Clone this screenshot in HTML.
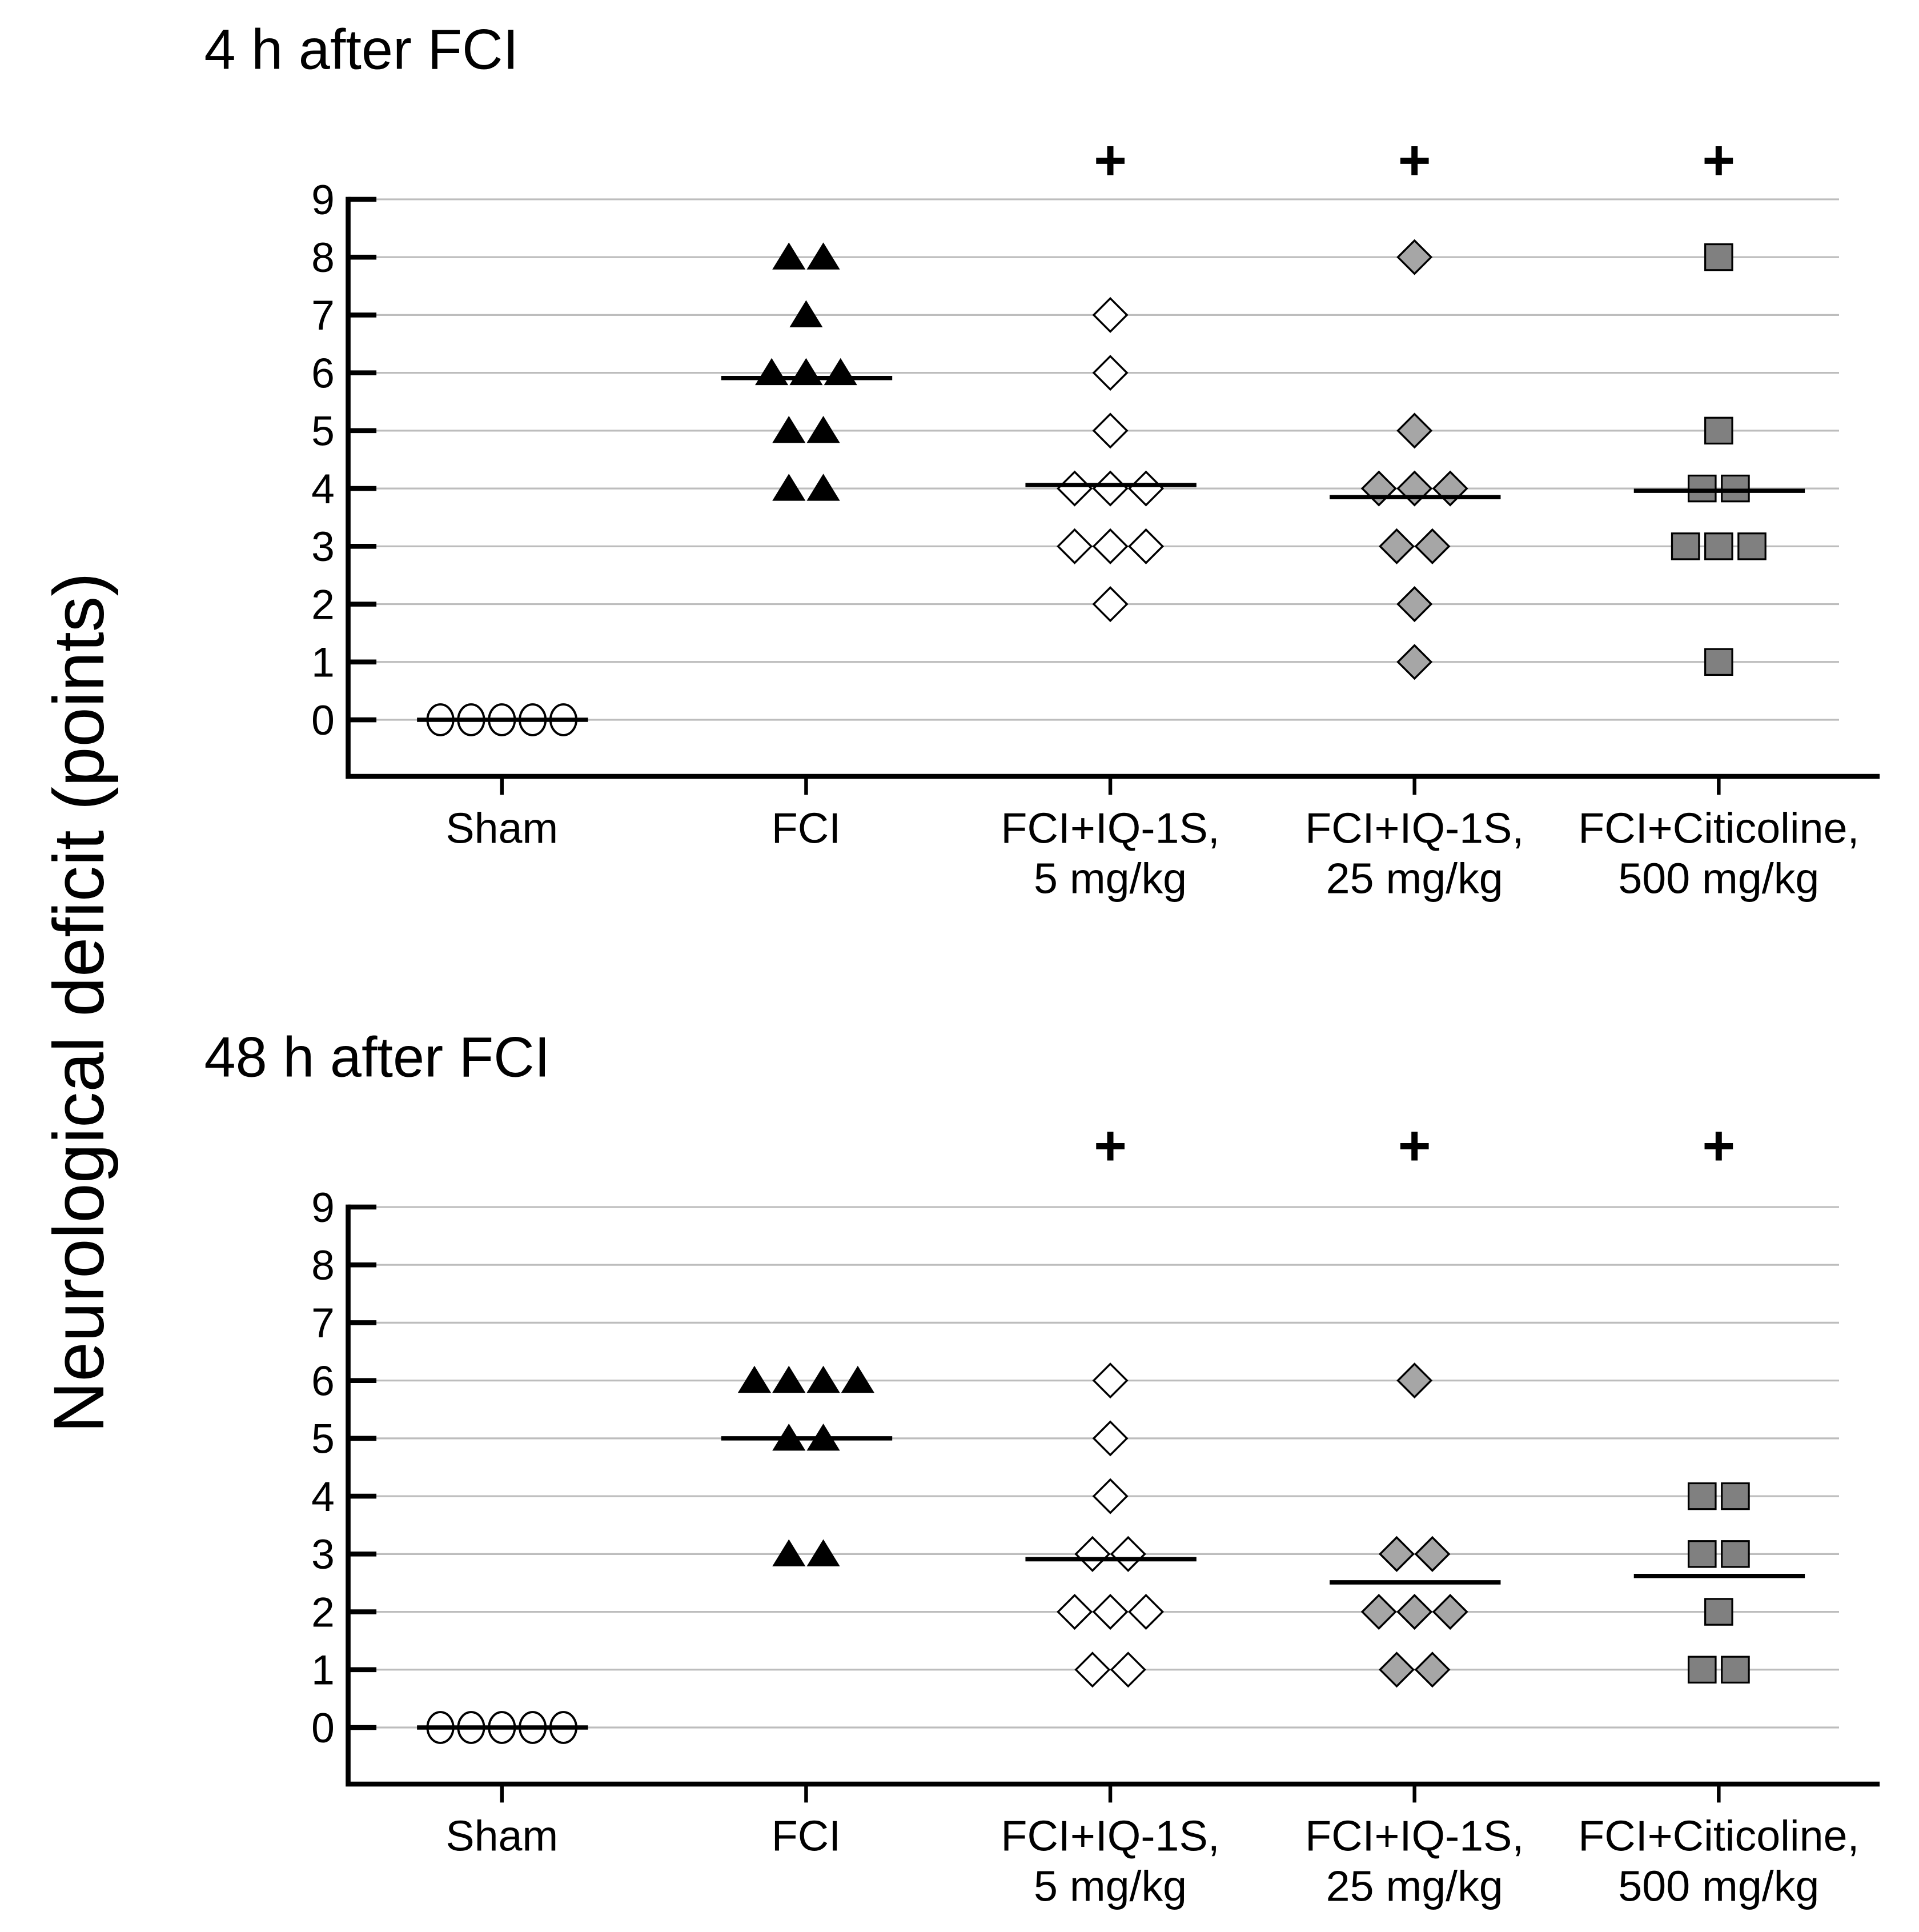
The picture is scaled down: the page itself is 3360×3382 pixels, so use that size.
<!DOCTYPE html>
<html><head><meta charset="utf-8"><style>
html,body{margin:0;padding:0;background:#fff}
svg{display:block}
text{font-family:"Liberation Sans",Arial,sans-serif;fill:#000}
</style></head><body>
<svg id="chart" width="3360" height="3382" viewBox="0 0 1560 1570.2" xmlns="http://www.w3.org/2000/svg">
<text transform="translate(84,815) rotate(-90)" text-anchor="middle" font-size="58">Neurological deficit (points)</text>
<g id="panels"></g>
</svg>
<script>
const categories = ["Sham","FCI","FCI+IQ-1S,|5 mg/kg","FCI+IQ-1S,|25 mg/kg","FCI+Citicoline,|500 mg/kg"];
const yTicks = [0,1,2,3,4,5,6,7,8,9];
const panelTitles = ["4 h after FCI","48 h after FCI"];
// values per group (top panel: 4 h)
const top_sham = [0,0,0,0,0];
const top_fci = [8,8,7,6,6,6,5,5,4,4];
const top_iq5 = [7,6,5,4,4,4,3,3,3,2];
const top_iq25 = [8,5,4,4,4,3,3,2,1];
const top_citi = [8,5,4,4,3,3,3,1];
const top_medians = [0,5.91,4.06,3.85,3.96];
// bottom panel: 48 h
const bot_sham = [0,0,0,0,0];
const bot_fci = [6,6,6,6,5,5,3,3];
const bot_iq5 = [6,5,4,3,3,2,2,2,1,1];
const bot_iq25 = [6,3,3,2,2,2,1,1];
const bot_citi = [4,4,3,3,2,1,1];
const bot_medians = [0,5.0,2.91,2.51,2.62];
const significant = [false,false,true,true,true];

const NS="http://www.w3.org/2000/svg";
const root=document.getElementById('panels');
function mk(tag,attrs,parent){const e=document.createElementNS(NS,tag);for(const k in attrs)e.setAttribute(k,attrs[k]);(parent||root).appendChild(e);return e;}
const xPos=i=>408+i*247.3;
const styles=[
 {shape:'circle',fill:'#fff',dx:25},
 {shape:'tri',fill:'#000',dx:28},
 {shape:'diamond',fill:'#fff',dx:29},
 {shape:'diamond',fill:'#a6a6a6',dx:29},
 {shape:'square',fill:'#808080',dx:27}];

function drawPanel(p, off, plusY, groups, medians){
  const y=v=>585+off-v*47;
  const g=mk('g',{});
  
  
  const t=mk('text',{x:166,y:56+off,'font-size':46},g);t.textContent=panelTitles[p];
  
  yTicks.forEach(v=>{
    const gl=mk('line',{x1:283,x2:1495,y1:y(v),y2:y(v),stroke:'#bdbdbd','stroke-width':1.5},g);
    
    const tk=mk('line',{x1:283,x2:306,y1:y(v),y2:y(v),stroke:'#000','stroke-width':4},g);
    
    const tl=mk('text',{x:272,y:y(v)+12,'font-size':34,'text-anchor':'end'},g);tl.textContent=v;
    
  });
  const ax=mk('path',{d:`M283,${160+off} V${631+off} H1528`,fill:'none',stroke:'#000','stroke-width':4},g);
  
  categories.forEach((c,i)=>{
    const cx=xPos(i);
    const tk=mk('line',{x1:cx,x2:cx,y1:631+off,y2:646+off,stroke:'#000','stroke-width':3},g);
    
    c.split('|').forEach((ln,j)=>{
      const tl=mk('text',{x:cx,y:685+off+j*41,'font-size':35,'text-anchor':'middle'},g);tl.textContent=ln;
      
    });
    if(significant[i]){
      const pl=mk('text',{x:cx,y:plusY,'font-size':46,'font-weight':'bold','text-anchor':'middle'},g);pl.textContent='+';
      
    }
    const st=styles[i];const counts={};
    groups[i].forEach(v=>counts[v]=(counts[v]||0)+1);
    Object.keys(counts).forEach(k=>{
      const v=+k,n=counts[k];
      for(let m=0;m<n;m++){
        const mx=cx+(m-(n-1)/2)*st.dx,my=y(v);let el;
        if(st.shape==='circle') el=mk('ellipse',{cx:mx,cy:my,rx:10.5,ry:12.5,fill:st.fill,stroke:'#000','stroke-width':1.8},g);
        else if(st.shape==='tri') el=mk('polygon',{points:`${mx},${my-12} ${mx-13.5},${my+10} ${mx+13.5},${my+10}`,fill:'#000'},g);
        else if(st.shape==='diamond') el=mk('polygon',{points:`${mx},${my-13.5} ${mx+13.5},${my} ${mx},${my+13.5} ${mx-13.5},${my}`,fill:st.fill,stroke:'#000','stroke-width':1.6},g);
        else el=mk('rect',{x:mx-11,y:my-10.5,width:22,height:21,fill:st.fill,stroke:'#000','stroke-width':1.5},g);
        
        
      }
    });
    const md=mk('line',{x1:cx-69,x2:cx+70,y1:y(medians[i]),y2:y(medians[i]),stroke:'#000','stroke-width':3.5},g);
    
  });
}
drawPanel(0,0,146,[top_sham,top_fci,top_iq5,top_iq25,top_citi],top_medians);
drawPanel(1,819,947,[bot_sham,bot_fci,bot_iq5,bot_iq25,bot_citi],bot_medians);
</script>
</body></html>
